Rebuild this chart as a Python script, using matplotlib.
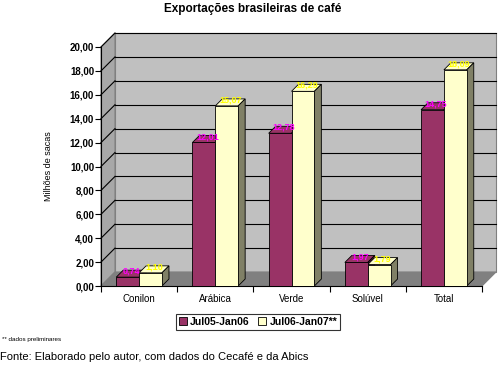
import matplotlib
matplotlib.use("Agg")
import matplotlib.pyplot as plt
from matplotlib.patches import Polygon, Patch
import numpy as np

plt.rcParams['font.family'] = ['Liberation Sans', 'DejaVu Sans']

categories = ["Conilon", "Arábica", "Verde", "Solúvel", "Total"]
series_names = ["Jul05-Jan06", "Jul06-Jan07**"]
values_0506 = [0.74, 12.01, 12.78, 1.97, 14.75]
values_0607 = [1.10, 15.07, 16.29, 1.79, 18.09]
y_ticks = [0, 2, 4, 6, 8, 10, 12, 14, 16, 18, 20]

W, H = 499, 365
fig = plt.figure(figsize=(W / 100, H / 100), dpi=100)
ax = fig.add_axes([101 / W, 1 - 286 / H, (482 - 101) / W, (286 - 47) / H])
ax.set_xlim(-0.5, len(categories) - 0.5)
ax.set_ylim(0, 20)

px_x = (482 - 101) / len(categories)
px_y = (286 - 47) / 20.0
wdx, wdy = 14 / px_x, 14 / px_y   # wall depth
bdx, bdy = 7 / px_x, 7 / px_y     # bar depth

x0, x1 = -0.5, len(categories) - 0.5
ax.add_patch(Polygon([(x0 + wdx, wdy), (x1 + wdx, wdy), (x1 + wdx, 20 + wdy), (x0 + wdx, 20 + wdy)],
                     closed=True, facecolor="#c0c0c0", edgecolor="#808080", lw=0.8, clip_on=False, zorder=1))
ax.add_patch(Polygon([(x0, 0), (x0 + wdx, wdy), (x0 + wdx, 20 + wdy), (x0, 20)],
                     closed=True, facecolor="#a8a8a8", edgecolor="#808080", lw=0.8, clip_on=False, zorder=1))
ax.add_patch(Polygon([(x0, 0), (x1, 0), (x1 + wdx, wdy), (x0 + wdx, wdy)],
                     closed=True, facecolor="#808080", edgecolor="#808080", lw=0.8, clip_on=False, zorder=1))
for t in y_ticks[1:]:
    ax.plot([x0 + wdx, x1 + wdx], [t + wdy, t + wdy], color="black", lw=0.8, zorder=2, clip_on=False)
    ax.plot([x0, x0 + wdx], [t, t + wdy], color="black", lw=0.8, zorder=2, clip_on=False)

bw = 0.3
xs = np.arange(len(categories))
styles = [
    dict(front="#993366", top="#993366", side="#4d1933", lab="#ff00ff"),
    dict(front="#ffffcc", top="#ffffcc", side="#808066", lab="#ffff00"),
]
for si, vals in enumerate([values_0506, values_0607]):
    st = styles[si]
    offs = -bw / 2 if si == 0 else bw / 2
    bars = ax.bar(xs + offs, vals, width=bw, color=st["front"], edgecolor="black", lw=0.6, zorder=5)
    for b, v in zip(bars, vals):
        l = b.get_x(); r = l + b.get_width(); h = b.get_height()
        ax.add_patch(Polygon([(l, h), (r, h), (r + bdx, h + bdy), (l + bdx, h + bdy)], closed=True,
                             facecolor=st["top"], edgecolor="black", lw=0.6, zorder=4, clip_on=False))
        ax.add_patch(Polygon([(r, 0), (r + bdx, bdy), (r + bdx, h + bdy), (r, h)], closed=True,
                             facecolor=st["side"], edgecolor="black", lw=0.6, zorder=4, clip_on=False))
        ax.text(l + b.get_width() / 2 + bdx / 2, h + bdy * 0.2, f"{v:.2f}".replace(".", ","),
                ha="center", va="bottom", fontsize=6.5, fontweight="bold", color=st["lab"], zorder=10,
                clip_on=False)

for s in ["top", "right"]:
    ax.spines[s].set_visible(False)
ax.spines["left"].set_linewidth(0.8)
ax.spines["bottom"].set_linewidth(0.8)
ax.set_yticks(y_ticks)
ax.set_yticklabels([f"{t:.2f}".replace(".", ",") for t in y_ticks], fontsize=7, fontweight="bold")
ax.tick_params(axis="y", length=4, width=0.8, pad=1)
ax.set_xticks(xs)
ax.set_xticklabels(categories, fontsize=7)
ax.tick_params(axis="x", length=0, pad=6)
ax.set_xticks(np.arange(len(categories) + 1) - 0.5, minor=True)
ax.tick_params(axis="x", which="minor", length=4, width=0.8)
ax.set_ylabel("Milhões de sacas", fontsize=6.5, labelpad=12)

fig.text(253 / W, 1 - 9 / H, "Exportações brasileiras de café", ha="center", va="center",
         fontsize=8.5, fontweight="bold")

handles = [Patch(facecolor=styles[i]["front"], edgecolor="black", lw=0.6) for i in range(2)]
leg = fig.legend(handles, series_names, loc="center", bbox_to_anchor=(258 / W, 1 - 322 / H), ncol=2,
                 fontsize=7.5, frameon=True, fancybox=False, edgecolor="black", handlelength=0.8,
                 handleheight=0.8, handletextpad=0.3, columnspacing=0.8, borderpad=0.25)
leg.get_frame().set_linewidth(0.8)
for t in leg.get_texts():
    t.set_fontweight("bold")

fig.text(2 / W, 1 - 340 / H, "** dados preliminares", ha="left", va="center", fontsize=4.5)
fig.text(0 / W, 1 - 357 / H, "Fonte: Elaborado pelo autor, com dados do Cecafé e da Abics",
         ha="left", va="center", fontsize=8)

fig.savefig("out.png", dpi=100)
